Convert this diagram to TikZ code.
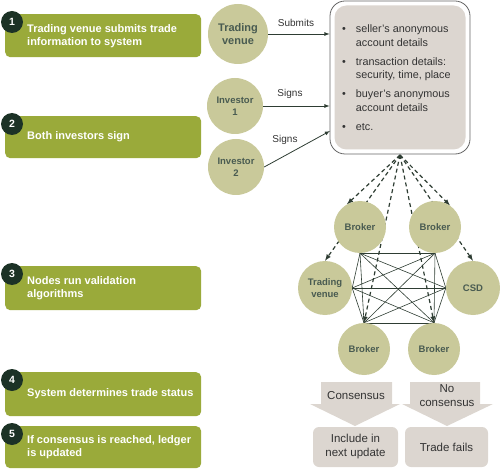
\documentclass[tikz,border=0pt]{standalone}
\usepackage{fontspec}
\setmainfont{Liberation Sans}
\usepackage{xcolor}
\usetikzlibrary{backgrounds}

\definecolor{stepgreen}{HTML}{9AAA3A}
\definecolor{olivenode}{HTML}{C9C99A}
\definecolor{numdark}{HTML}{1C3226}
\definecolor{paleg}{HTML}{DCD6D0}
\definecolor{inkline}{HTML}{2E3D33}
\definecolor{txtgrey}{HTML}{333333}

\begin{document}
\begin{tikzpicture}
[x=1pt,y=-1pt,>=latex,
stepbox/.style={rectangle,fill=stepgreen,rounded corners=5pt,minimum width=196pt,anchor=north west},
steptext/.style={anchor=west,align=left,text=white,font=\fontsize{11}{13}\selectfont\bfseries,inner sep=0pt},
stepnum/.style={circle,fill=numdark,text=white,minimum size=22pt,inner sep=0pt,font=\fontsize{10.5}{12}\selectfont\bfseries},
party/.style={circle,fill=olivenode,text=numdark!80,inner sep=0pt,align=center,font=\fontsize{9.5}{11.5}\selectfont\bfseries},
greybox/.style={rectangle,fill=paleg,rounded corners=6pt,align=center,text=txtgrey,font=\fontsize{11.5}{14}\selectfont},
flow/.style={draw=inkline,thick},
flowlbl/.style={text=txtgrey,font=\fontsize{10}{11}\selectfont},
dasharr/.style={draw=inkline,line width=1.2pt,dash pattern=on 4pt off 3pt,->},
mesh/.style={draw=inkline,line width=0.6pt}]
\useasboundingbox (0,0) rectangle (500,470);

% steps on the left
\node at (5,14)  [stepbox,minimum height=43pt] (s1) {};
\node at (5,116) [stepbox,minimum height=42pt] (s2) {};
\node at (5,266) [stepbox,minimum height=44pt] (s3) {};
\node at (5,372) [stepbox,minimum height=44pt] (s4) {};
\node at (5,426) [stepbox,minimum height=42pt] (s5) {};
\node at (27,36)    [steptext] (t1) {Trading venue submits trade\\information to system};
\node at (27,137)   [steptext] (t2) {Both investors sign};
\node at (27,288.5) [steptext] (t3) {Nodes run validation\\algorithms};
\node at (27,394)   [steptext] (t4) {System determines trade status};
\node at (27,447.5) [steptext] (t5) {If consensus is reached, ledger\\is updated};
\node at (12,22)  [stepnum] (n1) {1};
\node at (12,124) [stepnum] (n2) {2};
\node at (12,274) [stepnum] (n3) {3};
\node at (12,380) [stepnum] (n4) {4};
\node at (12,434) [stepnum] (n5) {5};

% trade record
\node at (400,77.5) [rectangle,draw=black!60,fill=white,line width=0.8pt,rounded corners=15pt,minimum width=140pt,minimum height=153pt] (ledger) {};
\node at (400,77.5) [rectangle,fill=paleg,rounded corners=12pt,minimum width=131pt,minimum height=144pt] (ledgerin) {};
\node at (342,23) [anchor=north west,inner sep=0pt,text=txtgrey,font=\fontsize{10.8}{13.5}\selectfont] (items)
  {\begin{tabular}{@{}l@{\hspace{10pt}}l@{}}
   \textbullet & seller's anonymous\\ & account details\\[5.5pt]
   \textbullet & transaction details:\\ & security, time, place\\[5.5pt]
   \textbullet & buyer's anonymous\\ & account details\\[5.5pt]
   \textbullet & etc.
   \end{tabular}};

% parties
\node at (238,34)  [party,minimum size=60pt,font=\fontsize{11}{13}\selectfont\bfseries] (venue) {Trading\\venue};
\node at (235,106) [party,minimum size=56pt] (inv1) {Investor\\1};
\node at (236,167) [party,minimum size=56pt] (inv2) {Investor\\2};
\coordinate (sgn) at (330,131);
\draw [->,flow] (venue) to (venue -| ledger.west);
\draw [->,flow] (inv1) to (inv1 -| ledger.west);
\draw [->,flow] (inv2.east) to (sgn);
\node at (296,23)  [flowlbl] (lsub) {Submits};
\node at (290,94)  [flowlbl] (lsg1) {Signs};
\node at (285,140) [flowlbl] (lsg2) {Signs};

% validating nodes
\node at (360,227) [party,minimum size=52pt] (tlb) {Broker};
\node at (435,227) [party,minimum size=52pt] (trb) {Broker};
\node at (325,288) [party,minimum size=54pt] (tvn) {Trading\\venue};
\node at (473,288) [party,minimum size=54pt] (csd) {CSD};
\node at (364,349) [party,minimum size=52pt] (blb) {Broker};
\node at (434,349) [party,minimum size=52pt] (brb) {Broker};
\coordinate (apex) at (400,155);
\begin{pgfonlayer}{background}
\foreach \a [count=\i] in {tlb.south,trb.south,tvn.east,csd.west,blb.north,brb.north}
  \foreach \b [count=\j] in {tlb.south,trb.south,tvn.east,csd.west,blb.north,brb.north}
    {\ifnum\j>\i \draw [mesh] (\a) to (\b); \fi}
\foreach \t in {tlb.120,trb.55,tvn.90,csd.90,blb.north,brb.north}
  \draw [dasharr] (apex) to (\t);
\end{pgfonlayer}

% outcome
\fill [paleg] (321,382) -- (392,382) -- (392,404) -- (400,404) -- (355,426) -- (310,404) -- (321,404) -- cycle;
\fill [paleg] (410,382) -- (480,382) -- (480,404) -- (493,404) -- (447,426) -- (402,404) -- (410,404) -- cycle;
\node at (356,396) [text=txtgrey,font=\fontsize{11.5}{14}\selectfont] (cons) {Consensus};
\node at (447,396) [text=txtgrey,align=center,font=\fontsize{11.5}{14}\selectfont] (nocons) {No\\consensus};
\node at (355.5,447) [greybox,minimum width=85pt,minimum height=40pt] (incl) {Include in\\next update};
\node at (446.5,447) [greybox,minimum width=83pt,minimum height=40pt] (fails) {Trade fails};
\end{tikzpicture}
\end{document}
